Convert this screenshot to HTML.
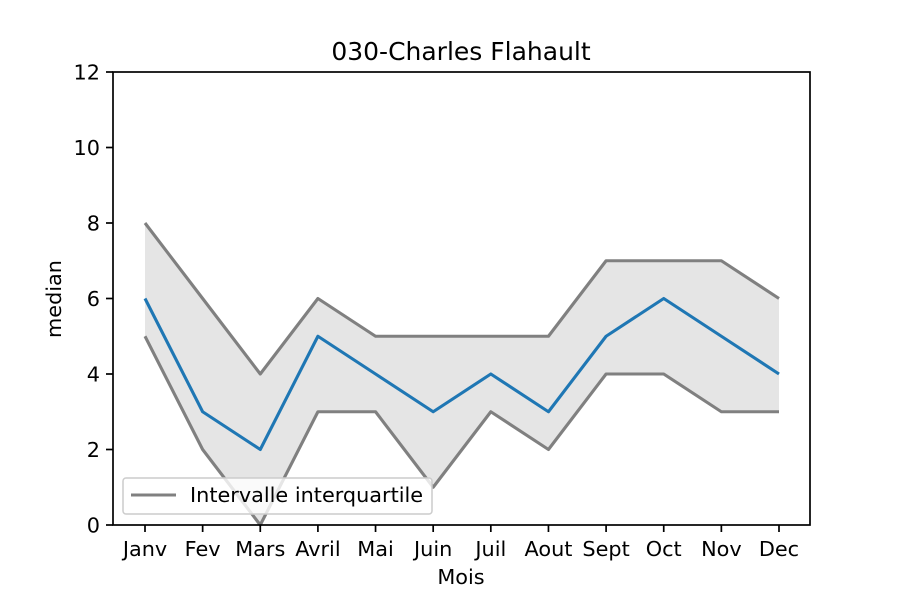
<!DOCTYPE html>
<html><head><meta charset="utf-8"><style>
html,body{margin:0;padding:0;background:#fff;}
svg text{font-family:"DejaVu Sans","Liberation Sans",sans-serif;fill:#000;}
</style></head><body>
<svg id="chart" width="900" height="600" viewBox="0 0 900 600" xmlns="http://www.w3.org/2000/svg">
<rect width="900" height="600" fill="#fff"/>
<g id="g"></g>
</svg>
<script>
const months = ["Janv","Fev","Mars","Avril","Mai","Juin","Juil","Aout","Sept","Oct","Nov","Dec"];
const upperQ = [8,6,4,6,5,5,5,5,7,7,7,6];
const medianV = [6,3,2,5,4,3,4,3,5,6,5,4];
const lowerQ = [5,2,0,3,3,1,3,2,4,4,3,3];
const yTicks = [0,2,4,6,8,10,12];

const L=113,R=810,T=72,B=525;
const x0=145,x1=779;
function xs(i){return x0+(x1-x0)*i/(months.length-1);}
function ys(v){return B-(B-T)*v/12;}
const NS="http://www.w3.org/2000/svg";
const g=document.getElementById('g');
function mk(tag,attrs,name,parent){
  const e=document.createElementNS(NS,tag);
  for(const k in attrs)e.setAttribute(k,attrs[k]);
  
  
  (parent||g).appendChild(e);return e;
}
function pts(arr){return arr.map((v,i)=>xs(i)+","+ys(v)).join(" ");}
const poly=upperQ.map((v,i)=>xs(i)+","+ys(v)).concat(lowerQ.map((v,i)=>[i,v]).reverse().map(([i,v])=>xs(i)+","+ys(v))).join(" ");
mk('polygon',{points:poly,fill:'#000','fill-opacity':0.1,stroke:'none'},'interquartile-band');
mk('polyline',{points:pts(upperQ),fill:'none',stroke:'#808080','stroke-width':3.1,'stroke-linejoin':'round'},'upper-quartile-line');
mk('polyline',{points:pts(lowerQ),fill:'none',stroke:'#808080','stroke-width':3.1,'stroke-linejoin':'round'},'lower-quartile-line');
mk('polyline',{points:pts(medianV),fill:'none',stroke:'#1f77b4','stroke-width':3.1,'stroke-linejoin':'round'},'median-line');
mk('rect',{x:L,y:T,width:R-L,height:B-T,fill:'none',stroke:'#000','stroke-width':1.7},'plot-frame');
yTicks.forEach(v=>{
  mk('line',{x1:L-7,x2:L,y1:ys(v),y2:ys(v),stroke:'#000','stroke-width':1.7},'y-tick');
  const t=mk('text',{x:L-13,y:ys(v)+7.5,'text-anchor':'end','font-size':20.8},'y-tick-label');t.textContent=v;
});
months.forEach((m,i)=>{
  mk('line',{x1:xs(i),x2:xs(i),y1:B,y2:B+7,stroke:'#000','stroke-width':1.7},'x-tick');
  const t=mk('text',{x:xs(i),y:B+31,'text-anchor':'middle','font-size':20.8},'x-tick-label');t.textContent=m;
});
let t=mk('text',{x:461,y:584,'text-anchor':'middle','font-size':20.8},'x-axis-title');t.textContent='Mois';
t=mk('text',{x:61,y:299,'text-anchor':'middle','font-size':20.8,transform:'rotate(-90 61 299)'},'y-axis-title');t.textContent='median';
t=mk('text',{x:461,y:60,'text-anchor':'middle','font-size':25},'chart-title');t.textContent='030-Charles Flahault';
const lg=mk('g',{},'legend');
mk('rect',{x:123,y:478,width:309,height:36,rx:3,fill:'#fff','fill-opacity':0.8,stroke:'#ccc','stroke-width':1.5},'legend-box',lg);
mk('line',{x1:131,x2:176,y1:495,y2:495,stroke:'#808080','stroke-width':3.1},'legend-swatch',lg);
t=mk('text',{x:190,y:502,'font-size':20.8},'legend-label',lg);t.textContent='Intervalle interquartile';
</script>
</body></html>
